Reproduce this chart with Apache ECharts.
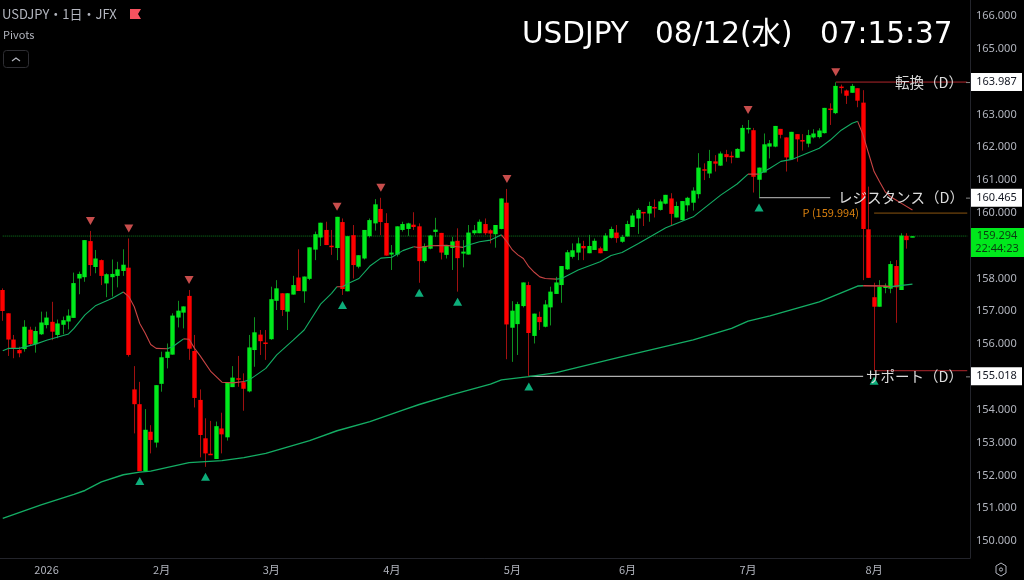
<!DOCTYPE html>
<html><head><meta charset="utf-8">
<style>html,body{margin:0;padding:0;background:#000}#c{width:1024px;height:580px}</style>
<script src="https://cdn.jsdelivr.net/npm/echarts@6/dist/echarts.min.js"></script>
</head><body><div id="c"></div>
<script>
const opens=[157.65,156.94,156.14,155.82,155.85,156.44,156.00,156.30,156.58,156.68,156.28,156.59,156.69,156.80,158.00,158.04,159.14,158.35,158.56,157.85,158.04,158.08,158.23,158.33,154.62,154.17,152.13,153.33,153.00,154.79,155.58,155.68,156.81,156.96,157.47,155.79,154.30,153.13,152.66,152.50,153.43,153.16,154.69,154.96,154.84,
154.56,155.82,156.29,156.05,156.15,157.32,157.55,156.99,157.51,158.03,157.61,157.99,158.88,159.25,159.48,159.00,158.93,159.72,157.61,159.32,158.36,158.61,159.29,159.68,160.12,159.69,158.73,158.73,159.48,159.51,159.64,159.59,158.53,158.91,159.42,159.39,158.72,158.93,159.15,158.76,158.73,159.38,159.38,159.66,159.47,159.35,159.51,160.31,
156.50,156.61,157.16,157.80,156.25,156.83,156.53,157.12,157.53,157.80,158.28,158.66,158.79,158.99,158.77,158.87,158.92,158.84,159.24,159.40,159.12,159.28,159.57,159.83,160.03,159.98,160.18,160.09,160.28,160.44,159.86,159.78,160.23,160.31,160.57,161.33,161.20,161.57,161.44,161.79,161.74,161.68,161.87,162.56,
162.52,161.01,161.23,162.02,162.02,162.56,162.30,161.64,162.40,162.22,162.11,162.30,162.31,162.43,163.18,163.04,163.85,163.73,163.66,163.80,163.36,159.50,157.43,157.14,157.71,157.69,158.38,157.65,159.30,159.26];
const closes=[157.01,156.14,155.87,155.72,156.53,156.00,156.40,156.66,156.81,156.38,156.63,156.73,156.87,157.86,158.14,159.17,158.41,158.61,158.08,158.13,158.14,158.28,158.42,155.67,154.17,152.13,153.39,153.08,154.75,155.60,155.77,156.87,157.02,157.15,155.86,154.36,153.23,152.67,152.62,153.50,153.25,154.82,154.98,154.93,154.64,
155.90,156.36,156.09,156.01,157.37,157.70,157.04,157.55,157.80,157.62,158.06,158.95,159.35,159.70,159.02,158.96,159.88,157.68,159.29,158.41,158.71,159.48,159.78,160.26,159.72,158.70,158.79,159.59,159.66,159.68,159.57,158.53,158.99,159.31,159.49,158.79,158.99,159.13,158.62,158.82,159.40,159.47,159.73,159.38,159.37,159.63,160.44,156.60,
157.02,157.22,157.88,156.34,156.93,156.67,157.21,157.60,157.88,158.38,158.80,158.86,159.07,158.92,158.99,159.15,158.77,159.31,159.51,159.23,159.27,159.66,159.92,160.09,159.99,160.21,160.15,160.35,160.55,159.97,160.21,160.36,160.46,160.68,161.38,161.29,161.58,161.50,161.81,161.70,161.72,161.95,162.59,162.59,
161.10,161.38,162.09,162.12,162.65,162.38,161.69,162.47,162.24,162.20,162.37,162.42,162.51,163.20,163.16,163.87,163.82,163.57,163.87,163.42,159.51,158.02,157.14,157.75,157.77,158.44,157.73,159.31,159.17,159.29];
const highs=[157.70,156.94,156.28,155.92,156.73,156.53,156.53,156.99,156.99,157.29,156.75,156.84,157.06,158.18,158.21,159.17,159.45,158.87,158.58,158.16,158.58,158.51,158.89,159.22,155.33,154.85,154.02,153.53,154.75,155.77,156.02,156.94,157.32,157.15,157.65,156.28,154.62,153.74,153.66,153.64,153.91,154.82,155.33,155.64,155.11,
156.28,156.82,156.43,156.43,157.75,157.95,157.55,157.55,158.08,158.89,158.06,158.95,159.43,159.70,159.73,159.48,159.88,159.83,159.29,159.63,158.71,159.48,159.83,160.42,160.46,159.99,159.02,159.59,159.73,159.70,160.02,159.68,159.07,159.33,159.85,159.39,159.01,159.27,159.53,159.17,159.63,159.63,159.80,159.83,159.50,159.63,160.44,160.73,
157.31,157.29,157.88,157.90,156.93,156.99,157.34,157.75,158.05,158.38,158.87,159.07,159.25,159.15,159.33,159.22,158.97,159.38,159.58,159.63,159.33,159.76,159.99,160.14,160.03,160.34,160.41,160.41,160.55,160.60,160.34,160.36,160.49,160.78,161.82,161.51,161.92,161.76,161.87,161.92,161.87,161.97,162.68,162.83,
162.59,161.38,162.42,162.22,162.65,162.56,162.30,162.47,162.40,162.40,162.53,162.55,162.58,163.20,163.34,163.98,163.91,163.76,163.93,163.80,163.74,160.80,157.87,157.95,157.85,158.53,158.56,159.38,159.38,159.29];
const lows=[156.71,155.64,155.57,155.60,155.77,155.97,155.74,156.28,156.48,156.12,156.18,156.30,156.45,156.80,157.52,157.90,158.08,158.16,157.80,157.43,157.45,157.73,158.08,155.62,153.28,152.13,152.13,152.67,152.85,154.55,155.26,155.68,156.51,156.48,155.52,154.07,152.55,152.26,152.62,152.50,152.67,153.06,154.69,154.70,153.97,
154.53,155.31,155.67,155.52,156.13,157.04,156.86,156.43,157.51,157.62,157.26,157.95,158.56,158.99,159.02,158.72,158.56,157.50,157.61,158.00,158.31,158.58,159.25,159.46,159.32,158.70,158.26,158.67,159.43,159.30,159.48,157.87,158.48,158.89,159.27,158.58,158.61,158.26,157.60,158.34,158.73,159.33,159.38,159.33,159.07,158.94,159.50,155.54,
155.46,155.67,157.12,155.01,156.02,156.43,156.51,156.57,157.53,157.26,158.26,158.61,158.56,158.56,158.77,158.87,158.77,158.84,159.22,159.09,159.09,159.28,159.57,159.36,159.60,159.73,159.86,160.07,160.26,159.63,159.86,159.76,160.04,160.07,160.44,161.00,161.06,161.26,161.43,161.56,161.51,161.68,161.87,162.42,
160.62,160.47,161.23,161.66,162.00,162.27,161.26,161.64,161.56,161.90,162.00,162.27,162.27,162.42,162.68,163.01,163.64,163.32,163.66,163.22,157.95,158.02,155.19,157.14,157.55,157.55,156.65,157.65,158.91,159.26];
const maShortIdx=[0,1,3,6,8,12,13,15,17,20,22,23,24,25,26,27,28,30,31,32,33,34,35,36,38,40,42,44,45,48,50,53,55,58,60,61,62,63,65,67,69,71,73,75,76,78,81,83,84,85,87,89,91,92,93,94,95,96,97,98,99,101,102,105,109,111,113,116,121,126,131,134,136,137,138,140,142,144,149,151,153,155,156,157,158,159,160,161,162,163,164,166];
const maShortVal=[155.80,155.87,155.87,156.00,156.12,156.31,156.48,156.89,157.18,157.40,157.59,157.45,157.14,156.63,156.33,155.99,155.87,155.86,155.92,156.04,156.16,156.15,155.87,155.65,155.16,154.84,154.82,154.86,154.91,155.26,155.67,156.12,156.43,157.22,157.55,157.75,157.75,157.85,158.00,158.38,158.62,158.65,158.85,158.97,158.94,159.00,159.01,158.97,158.95,159.02,159.12,159.17,159.33,159.12,158.87,158.72,158.61,158.36,158.19,158.05,158.00,157.98,158.00,158.26,158.51,158.70,158.79,159.07,159.55,159.88,160.54,160.88,161.18,161.18,161.18,161.36,161.57,161.63,161.97,162.22,162.52,162.73,162.79,162.37,161.81,161.26,160.95,160.65,160.49,160.39,160.29,160.09];
const maShortFalling=[0,0,0,0,0,0,0,0,0,0,0,1,1,1,1,1,1,1,0,0,0,1,1,1,1,1,1,1,0,0,0,0,0,0,0,0,1,0,0,0,0,0,0,0,1,1,1,1,1,0,0,0,0,1,1,1,1,1,1,1,1,1,0,0,0,0,0,0,0,0,0,0,0,1,1,0,0,0,0,0,0,0,0,1,1,1,1,1,1,1,1,1];
const maLongIdx=[0,7,13,15,18,22,25,27,34,40,44,48,56,61,67,73,76,82,89,91,96,101,113,126,133,136,140,149,156,157,161,162,166];
const maLongVal=[150.69,151.10,151.42,151.54,151.80,152.02,152.10,152.13,152.39,152.45,152.54,152.67,153.06,153.36,153.64,153.99,154.16,154.46,154.78,154.91,155.01,155.13,155.62,156.13,156.48,156.70,156.86,157.29,157.77,157.78,157.77,157.75,157.83];
const maLongFalling=[0,0,0,0,0,0,0,0,0,0,0,0,0,0,0,0,0,0,0,0,0,0,0,0,0,0,0,0,0,0,1,1,0];
const pivotHighIdx=[16,23,34,61,69,92,136,152];
const pivotLowIdx=[25,37,62,76,83,96,138,159];
const priceTicks=[150,151,152,153,154,156,157,158,160,161,162,163,165,166];
const monthIdx=[8,29,49,71,93,114,136,159];
const monthLabels=['2026','2月','3月','4月','5月','6月','7月','8月'];
const turnLevel=163.987, resistanceLevel=160.465, supportLevel=155.018, supportRedLevel=155.19, pivotLevel=159.994, lastPrice=159.294;
const slotCount=177, lastSlot=176;
const categories=[];for(let i=0;i<slotCount;i++)categories.push(String(i));

const GREEN='#00e81c',RED='#ff0000',GW='#0f8f20',RW='#a01010',MAG='#14ad64',MAR='#c84444',TXT='#b2b5be';
const FONT='"Noto Sans CJK JP","Noto Sans",sans-serif';
const ohlc=opens.map((o,i)=>[i,o,closes[i],lows[i],highs[i]]);

function renderCandle(params,api){
  const i=api.value(0),o=api.value(1),c=api.value(2),l=api.value(3),h=api.value(4);
  const up=c>=o;
  const cx=Math.round(api.coord([i,o])[0]-0.5)+0.5;
  const yh=api.coord([i,h])[1],yl=api.coord([i,l])[1];
  const yt=api.coord([i,Math.max(o,c)])[1],yb=api.coord([i,Math.min(o,c)])[1];
  return {type:'group',children:[
    {type:'line',shape:{x1:cx,y1:yh,x2:cx,y2:yl},style:{stroke:up?GW:RW,lineWidth:1}},
    {type:'rect',shape:{x:cx-2.2,y:yt,width:4.4,height:Math.max(yb-yt,1.5)},style:{fill:up?GREEN:RED}}
  ]};
}
function runs(idx,val,fall,gc,rc,w){
  const out=[];let k=1;
  while(k<idx.length){
    const f=fall[k];const pts=[[idx[k-1],val[k-1]]];
    while(k<idx.length&&fall[k]===f){pts.push([idx[k],val[k]]);k++;}
    out.push({type:'line',data:pts,symbol:'none',smooth:false,silent:true,z:6,
      lineStyle:{color:f?rc:gc,width:w}});
  }
  return out;
}
function seg(a,b,v,color,type,width,z){
  return {type:'line',data:[[a,v],[b,v]],symbol:'none',silent:true,z:z||2,lineStyle:{color,width:width||1,type:type||'solid'}};
}
const series=[
  seg(0,lastSlot,lastPrice,'#0f7f1f','dotted',1,1),
  {type:'custom',data:ohlc,renderItem:renderCandle,encode:{x:0,y:[1,2,3,4]},silent:true,clip:true,z:4},
  ...runs(maShortIdx,maShortVal,maShortFalling,MAG,MAR,1.1),
  ...runs(maLongIdx,maLongVal,maLongFalling,MAG,MAR,1.4),
  seg(152,lastSlot,turnLevel,'#b0262c'),
  seg(138,151,resistanceLevel,'#9a9a9a',null,1.3),
  seg(96,157,supportLevel,'#b0b0b0',null,1.3),
  seg(159,lastSlot,supportRedLevel,'#b0262c'),
  seg(159,lastSlot,pivotLevel,'#8a5510'),
  {type:'scatter',data:pivotHighIdx.map(i=>[i,highs[i]]),symbol:'triangle',symbolRotate:180,symbolSize:[9,8],symbolOffset:[0,-10],silent:true,z:7,itemStyle:{color:'#f9605f'}},
  {type:'scatter',data:pivotLowIdx.map(i=>[i,lows[i]]),symbol:'triangle',symbolSize:[9,8],symbolOffset:[0,10],silent:true,z:7,itemStyle:{color:'#10d898'}}
];
const chart=echarts.init(document.getElementById('c'),null,{renderer:'canvas'});
chart.setOption({
  animation:false,backgroundColor:'#000',
  grid:{left:-1,width:971,top:0,height:558,containLabel:false},
  xAxis:{type:'category',data:categories,boundaryGap:true,
    axisLine:{show:true,lineStyle:{color:'#23242b'}},axisTick:{show:false},splitLine:{show:false},
    axisLabel:{color:TXT,fontFamily:FONT,fontSize:11,margin:6,hideOverlap:false,
      interval:(i)=>monthIdx.includes(i),
      formatter:(v)=>{const k=monthIdx.indexOf(Number(v));return k>=0?monthLabels[k]:'';}}},
  yAxis:{type:'value',position:'right',min:149.482,max:166.488,scale:true,
    axisLine:{show:true,lineStyle:{color:'#23242b'}},axisTick:{show:false},splitLine:{show:false},
    axisLabel:{show:true,customValues:priceTicks,color:TXT,fontFamily:'"Noto Sans",sans-serif',fontSize:11,margin:6,formatter:v=>Number(v).toFixed(3)}},
  series
});
const py=p=>chart.convertToPixel({yAxisIndex:0},p);
function tag(p,txt){
  const y=py(p);
  return [{type:'rect',shape:{x:971,y:y-9,width:51,height:18},style:{fill:'#fff'},z:20},
    {type:'text',style:{x:996.5,y:y,text:txt,fill:'#131722',font:'11px "Noto Sans",sans-serif',align:'center',verticalAlign:'middle'},z:21},
    {type:'rect',shape:{x:966,y:y,width:4,height:1},style:{fill:'#8a8a8a'},z:20}];
}
function note(x,p,txt,size,fill,align){
  return {type:'text',style:{x,y:py(p),text:txt,fill,font:size+'px '+FONT,align:align||'left',verticalAlign:'middle'},z:22};
}
const ly=py(lastPrice);
const TITLE='29.5px "DejaVu Sans","Noto Sans CJK JP",sans-serif';
chart.setOption({graphic:{elements:[
  {type:'text',style:{x:522,y:35,text:'USDJPY',fill:'#fff',font:TITLE,verticalAlign:'middle'},z:30},
  {type:'text',style:{x:655,y:35,text:'08/12(水)',fill:'#fff',font:TITLE,verticalAlign:'middle'},z:30},
  {type:'text',style:{x:820,y:35,text:'07:15:37',fill:'#fff',font:TITLE,verticalAlign:'middle'},z:30},
  {type:'text',style:{x:2,y:14,text:'USDJPY・1日・JFX',fill:TXT,font:'13px '+FONT,verticalAlign:'middle'},z:30},
  {type:'polygon',shape:{points:[[130,9],[141,9],[138,14],[141,19],[130,19]]},style:{fill:'#f7525f'},z:30},
  {type:'text',style:{x:3,y:35,text:'Pivots',fill:TXT,font:'11px '+FONT,verticalAlign:'middle'},z:30},
  {type:'rect',shape:{x:3.5,y:50.5,width:25,height:17,r:3},style:{fill:'#000',stroke:'#2e2e33',lineWidth:1},z:30},
  {type:'polyline',shape:{points:[[12,61],[16,58],[20,61]]},style:{fill:'none',stroke:TXT,lineWidth:1.2},z:31},
  note(895,turnLevel,'転換（D）',14.5,'#dcdcdc'),
  note(838,resistanceLevel,'レジスタンス（D）',14.5,'#dcdcdc'),
  note(866,supportLevel,'サポート（D）',14.5,'#dcdcdc'),
  note(859,pivotLevel,'P (159.994)',11,'#d9800f','right'),
  ...tag(turnLevel,'163.987'),...tag(resistanceLevel,'160.465'),...tag(supportLevel,'155.018'),
  {type:'rect',shape:{x:971,y:ly-8,width:53,height:29},style:{fill:GREEN},z:20},
  {type:'text',style:{x:997,y:ly,text:'159.294',fill:'#0b3a12',font:'11px "Noto Sans",sans-serif',align:'center',verticalAlign:'middle'},z:21},
  {type:'text',style:{x:997,y:ly+13,text:'22:44:23',fill:'#0b3a12',font:'11px "Noto Sans",sans-serif',align:'center',verticalAlign:'middle'},z:21},
  {type:'polygon',shape:{points:[[1001,563],[1006,566],[1006,573],[1001,576],[996,573],[996,566]]},style:{fill:'none',stroke:TXT,lineWidth:1},z:30},
  {type:'circle',shape:{cx:1001,cy:569.5,r:1.6},style:{fill:'none',stroke:TXT,lineWidth:1},z:30}
]}});
</script></body></html>
